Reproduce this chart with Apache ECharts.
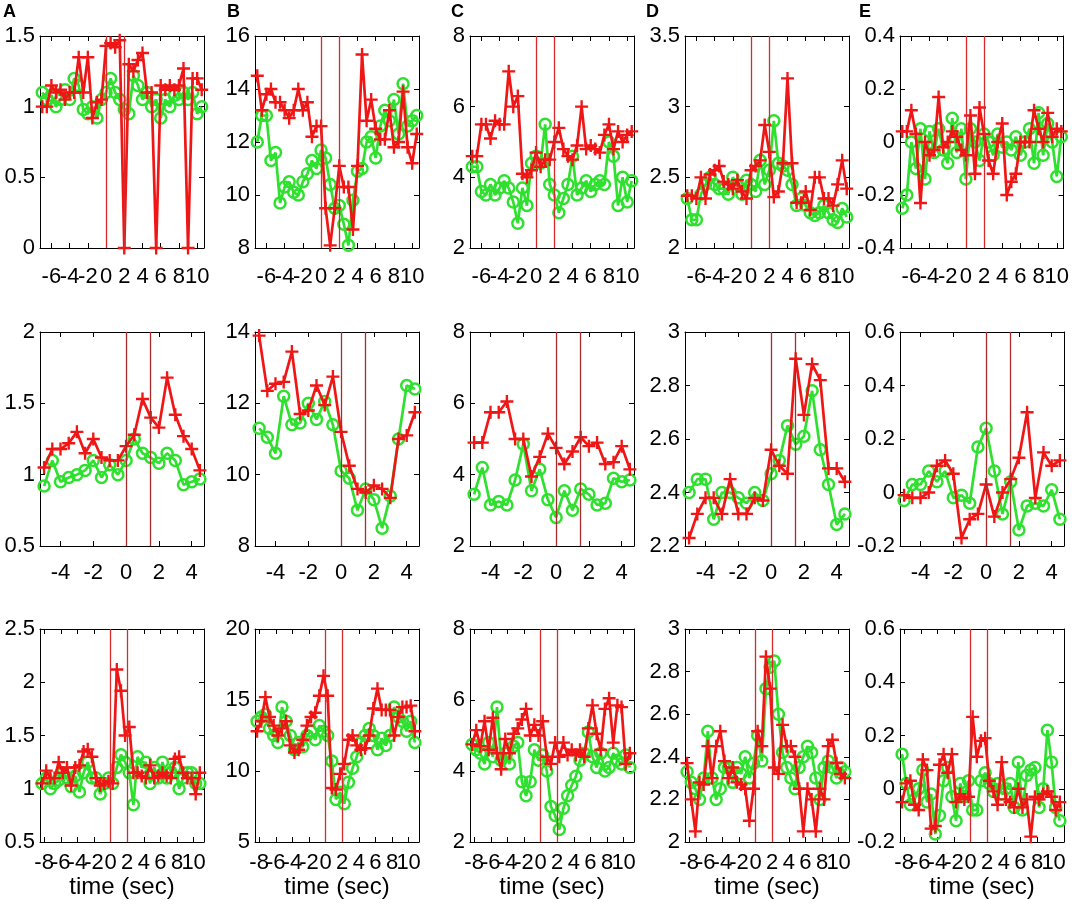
<!DOCTYPE html>
<html>
<head>
<meta charset="utf-8"/>
<style>
  html, body { margin: 0; padding: 0; background: #fff; }
  #main { width: 1072px; height: 905px; }
</style>
</head>
<body>
<div id="main"></div>
<script src="https://cdn.jsdelivr.net/npm/echarts@6/dist/echarts.min.js"></script>
<script type="text/javascript">
// time axes (sec), one per row
var timeRow1 = [-7,-6.5,-6,-5.5,-5,-4.5,-4,-3.5,-3,-2.5,-2,-1.5,-1,-0.5,0,0.5,1,1.5,2,2.5,3,3.5,4,4.5,5,5.5,6,6.5,7,7.5,8,8.5,9,9.5,10,10.5];
var timeRow2 = [-5,-4.5,-4,-3.5,-3,-2.5,-2,-1.5,-1,-0.5,0,0.5,1,1.5,2,2.5,3,3.5,4,4.5];
var timeRow3 = [-8.25,-7.75,-7.25,-6.75,-6.25,-5.75,-5.25,-4.75,-4.25,-3.75,-3.25,-2.75,-2.25,-1.75,-1.25,-0.75,-0.25,0.25,0.75,1.25,1.75,2.25,2.75,3.25,3.75,4.25,4.75,5.25,5.75,6.25,6.75,7.25,7.75,8.25,8.75,9.25,9.75,10.25,10.75];

// x tick labels per row
var xTicksRow1 = [-6,-4,-2,0,2,4,6,8,10];
var xTicksRow2 = [-4,-2,0,2,4];
var xTicksRow3 = [-8,-6,-4,-2,0,2,4,6,8,10];

// onset markers (red vertical lines)
var marksRow1 = [0, 2];
var marksRow2 = [0, 1.5];
var marksRow3 = [0, 2];

// row 1
var greenA1 = [1.1,1.05,1.08,1.0,1.05,1.12,1.05,1.2,1.15,0.98,0.95,1.0,0.92,1.05,1.1,1.2,1.1,1.05,0.98,0.95,1.22,1.15,1.05,1.1,1.0,1.05,0.92,1.05,1.0,1.08,1.05,1.1,1.05,1.1,0.95,1.0];
var redA1   = [1.0,1.0,1.15,1.1,1.12,1.05,1.1,1.1,1.35,1.1,1.35,0.92,1.03,1.05,1.43,1.45,1.42,1.47,0,1.3,1.25,1.33,1.38,1.1,1.1,0,1.15,1.12,1.15,1.12,1.15,1.27,0,1.2,1.2,1.12];
var greenB1 = [12.0,13.0,13.0,11.3,11.6,9.7,10.3,10.5,10.1,10.0,10.5,10.8,11.3,11.0,11.7,11.4,10.4,9.5,9.6,8.9,8.1,9.8,10.9,11.0,12.0,12.2,11.4,12.6,13.2,12.8,13.6,12.3,14.2,12.6,12.8,13.0];
var redB1   = [14.5,13.2,13.8,14.0,13.5,13.5,13.2,12.9,13.2,14.0,13.2,13.5,12.2,12.6,12.6,9.5,8.1,9.5,11.1,10.3,10.3,8.7,11.1,15.3,12.8,13.6,12.5,12.1,12.1,13.2,11.8,12.0,13.9,11.8,11.2,12.3];
var greenC1 = [4.3,4.3,3.6,3.5,3.8,3.5,3.7,3.9,3.7,3.3,2.7,3.7,3.2,4.4,4.6,4.4,5.5,3.8,3.5,3.0,3.4,3.8,4.6,3.5,3.7,3.9,3.6,3.8,3.9,3.8,5.0,4.6,3.2,4.0,3.3,3.9];
var redC1   = [4.6,4.6,5.5,5.5,5.1,5.6,5.5,5.5,7.0,6.0,6.3,4.1,4.0,4.2,4.7,4.3,4.5,4.5,5.0,5.4,4.8,4.6,4.5,4.9,6.0,4.8,4.9,4.8,4.7,5.2,5.5,4.8,5.3,5.0,5.2,5.3];
var greenD1 = [2.35,2.2,2.2,2.38,2.45,2.5,2.45,2.42,2.42,2.38,2.5,2.45,2.38,2.48,2.45,2.4,2.62,2.45,2.55,2.9,2.6,2.58,2.55,2.45,2.3,2.35,2.3,2.25,2.23,2.25,2.3,2.25,2.2,2.18,2.28,2.22];
var redD1   = [2.37,2.37,2.35,2.5,2.35,2.52,2.55,2.58,2.47,2.45,2.42,2.48,2.4,2.35,2.55,2.58,2.62,2.87,2.68,2.36,2.4,2.6,3.2,2.6,2.32,2.32,2.4,2.27,2.5,2.5,2.35,2.35,2.3,2.45,2.62,2.42];
var greenE1 = [-0.25,-0.2,0.0,-0.1,0.05,-0.14,0.04,-0.04,0.05,-0.03,-0.08,0.09,-0.04,0.05,-0.14,0.05,0.0,-0.07,0.03,0.0,-0.05,0.03,-0.02,0.0,-0.03,0.02,-0.05,0.0,0.05,-0.08,0.11,-0.05,0.07,0.0,-0.13,0.02];
var redE1   = [0.04,0.04,0.12,0.03,-0.23,0.0,-0.05,-0.03,0.17,-0.02,0.0,0.04,0.02,-0.03,-0.05,0.1,-0.12,0.13,0.03,-0.07,-0.12,0.0,0.07,-0.2,-0.15,-0.12,0.0,0.0,0.0,0.12,0.05,0.0,0.11,0.02,0.05,0.04];

// row 2
var greenA2 = [0.92,1.1,0.95,0.98,1.0,1.03,1.1,0.98,1.07,1.0,1.1,1.25,1.15,1.12,1.08,1.15,1.1,0.93,0.95,0.97];
var redA2   = [1.05,1.18,1.18,1.22,1.3,1.15,1.25,1.12,1.1,1.1,1.2,1.28,1.53,1.4,1.33,1.68,1.42,1.27,1.18,1.03];
var greenB2 = [11.3,11.05,10.6,12.2,11.4,11.45,12.0,11.55,12.05,11.4,10.1,9.9,9.0,9.6,9.3,8.5,9.4,11.0,12.5,12.4];
var redB2   = [13.9,12.35,12.55,12.6,13.45,11.7,11.8,12.5,11.95,12.75,11.2,10.25,9.6,9.5,9.7,9.6,9.35,11.0,11.1,11.75];
var greenC2 = [3.45,4.2,3.15,3.25,3.15,3.85,4.85,3.55,4.15,3.3,2.8,3.55,3.0,3.6,3.45,3.15,3.2,3.9,3.8,3.85];
var redC2   = [4.9,4.9,5.75,5.75,6.05,5.0,5.0,3.95,4.5,5.15,4.75,4.3,4.65,5.05,4.8,4.9,4.3,4.35,4.8,4.15];
var greenD2 = [2.4,2.45,2.45,2.3,2.4,2.4,2.38,2.36,2.4,2.37,2.47,2.52,2.65,2.58,2.61,2.78,2.56,2.43,2.28,2.32];
var redD2   = [2.23,2.32,2.38,2.38,2.32,2.45,2.32,2.32,2.38,2.37,2.56,2.5,2.47,2.9,2.69,2.88,2.82,2.49,2.49,2.44];
var greenE2 = [-0.03,0.03,0.03,0.08,0.04,0.08,-0.02,-0.01,-0.04,0.17,0.24,0.08,-0.08,0.04,-0.14,-0.05,-0.04,-0.05,0.01,-0.1];
var redE2   = [-0.01,-0.02,-0.02,0.0,0.1,0.12,0.07,-0.17,-0.1,-0.08,0.03,-0.09,0.0,0.05,0.13,0.3,-0.02,0.15,0.1,0.12];

// row 3
var greenA3 = [1.05,1.1,1.0,1.05,1.08,1.15,1.1,1.02,1.12,0.97,1.15,1.25,1.1,1.1,0.95,1.05,1.1,1.05,1.2,1.32,1.25,1.15,0.85,1.3,1.2,1.25,1.05,1.2,1.1,1.25,1.1,1.15,1.2,1.0,1.1,1.15,1.15,1.05,1.05];
var redA3   = [1.05,1.17,1.1,1.1,1.25,1.15,1.2,1.03,1.2,1.22,1.35,1.37,1.3,1.1,1.03,1.05,1.07,1.05,2.12,1.92,1.5,1.58,1.15,1.15,1.12,1.1,1.22,1.1,1.12,1.15,1.12,1.1,1.28,1.3,1.15,1.1,1.1,0.95,1.15];
var greenB3 = [13.5,13.8,14.0,13.0,12.5,12.0,14.5,13.5,12.5,11.5,12.0,11.7,12.5,12.8,12.2,13.2,12.8,12.5,10.7,8.0,8.5,7.7,9.2,10.2,11.0,12.0,12.5,13.0,12.5,11.5,12.3,11.8,12.5,14.5,13.8,13.5,12.8,13.5,12.0];
var redB3   = [12.8,13.5,15.2,13.8,13.2,12.5,13.0,13.5,11.8,11.3,11.5,12.2,13.2,13.8,14.1,15.3,16.7,15.3,8.8,8.7,9.8,10.5,12.2,12.5,11.8,11.5,11.6,12.5,14.4,15.8,14.3,14.3,14.3,12.5,13.8,14.5,14.5,14.6,12.8];
var greenC3 = [4.75,4.6,4.5,4.2,4.8,4.4,5.8,4.3,4.5,4.2,4.7,4.8,3.7,3.3,3.7,4.6,4.3,4.45,4.0,3.0,2.75,2.35,2.95,3.3,3.6,3.85,4.3,4.5,5.1,4.4,4.1,4.5,4.0,4.1,4.5,4.3,4.2,4.45,4.1];
var redC3   = [4.75,5.15,4.7,5.4,4.6,5.5,4.5,4.05,4.9,4.5,5.05,5.2,5.45,5.75,5.0,5.3,5.0,5.4,4.4,4.2,4.8,4.4,4.8,4.45,4.6,4.45,4.6,4.4,5.2,5.85,5.05,4.6,5.75,6.05,4.8,5.85,5.8,4.2,4.5];
var greenD3 = [2.33,2.28,2.25,2.2,2.3,2.52,2.3,2.2,2.25,2.35,2.35,2.28,2.35,2.32,2.4,2.3,2.37,2.5,2.38,2.72,2.82,2.85,2.6,2.42,2.35,2.3,2.25,2.35,2.4,2.45,2.42,2.3,2.2,2.35,2.38,2.35,2.3,2.35,2.33];
var redD3   = [2.37,2.2,2.05,2.28,2.27,2.45,2.3,2.45,2.52,2.38,2.3,2.35,2.28,2.27,2.25,2.1,2.25,2.52,2.45,2.87,2.72,2.35,2.32,2.55,2.45,2.45,2.4,2.25,2.05,2.25,2.2,2.05,2.25,2.2,2.45,2.48,2.37,2.32,2.3];
var greenE3 = [0.13,0.02,-0.06,-0.04,0.0,0.07,-0.05,-0.02,-0.17,-0.1,0.03,0.08,-0.03,-0.12,0.02,-0.03,0.03,-0.08,-0.08,0.03,0.06,0.02,-0.01,0.02,-0.02,0.0,0.02,-0.07,0.1,-0.08,0.05,0.07,0.08,-0.07,0.0,0.22,0.1,-0.07,-0.12];
var redE3   = [-0.05,0.02,0.03,-0.06,-0.08,0.11,0.07,-0.15,-0.14,0.09,0.13,0.06,0.13,-0.05,-0.02,-0.04,-0.03,0.27,0.12,0.18,0.19,0.03,-0.01,-0.06,0.1,-0.04,-0.05,-0.07,0.0,-0.07,-0.04,-0.18,-0.03,-0.04,-0.02,-0.01,-0.03,-0.08,-0.05];

// y tick labels per panel
var yTicksA1 = [0,0.5,1,1.5],        yTicksB1 = [8,10,12,14,16],  yTicksC1 = [2,4,6,8], yTicksD1 = [2,2.5,3,3.5],       yTicksE1 = [-0.4,-0.2,0,0.2,0.4];
var yTicksA2 = [0.5,1,1.5,2],        yTicksB2 = [8,10,12,14],     yTicksC2 = [2,4,6,8], yTicksD2 = [2.2,2.4,2.6,2.8,3], yTicksE2 = [-0.2,0,0.2,0.4,0.6];
var yTicksA3 = [0.5,1,1.5,2,2.5],    yTicksB3 = [5,10,15,20],     yTicksC3 = [2,4,6,8], yTicksD3 = [2,2.2,2.4,2.6,2.8,3], yTicksE3 = [-0.2,0,0.2,0.4,0.6];

var panelLetters = ['A','B','C','D','E'];

// layout
var colLeft = [40, 255, 470, 685, 900];
var rowTop = [36, 332, 629];
var rowH = [212, 214, 213];
var plotW = 164;
var xRange = [[-7.25, 10.75], [-5.25, 4.75], [-8.5, 11.25]];
var labelMargin = [18, 16, 10];
var markColor = ['#d82a2a', '#a82a2a', '#d82a2a'];
var letterX = [3, 227, 451, 646, 859];

var GREEN = '#2fe02f';
var RED = '#f01616';
var FONT = 'Liberation Sans, Arial, sans-serif';
var CROSS = 'path://M4.5,0H6.5V4.5H11V6.5H6.5V11H4.5V6.5H0V4.5H4.5Z';

var rows = [
  { time: timeRow1, xt: xTicksRow1, marks: marksRow1,
    green: [greenA1, greenB1, greenC1, greenD1, greenE1],
    red:   [redA1, redB1, redC1, redD1, redE1],
    yt:    [yTicksA1, yTicksB1, yTicksC1, yTicksD1, yTicksE1] },
  { time: timeRow2, xt: xTicksRow2, marks: marksRow2,
    green: [greenA2, greenB2, greenC2, greenD2, greenE2],
    red:   [redA2, redB2, redC2, redD2, redE2],
    yt:    [yTicksA2, yTicksB2, yTicksC2, yTicksD2, yTicksE2] },
  { time: timeRow3, xt: xTicksRow3, marks: marksRow3,
    green: [greenA3, greenB3, greenC3, greenD3, greenE3],
    red:   [redA3, redB3, redC3, redD3, redE3],
    yt:    [yTicksA3, yTicksB3, yTicksC3, yTicksD3, yTicksE3] }
];

function zip(t, v) {
  return v.map(function (y, i) { return [t[i], y]; });
}

var grids = [], xAxes = [], yAxes = [], series = [];
var boxLine = { show: true, onZero: false, lineStyle: { color: '#000', width: 1 } };

rows.forEach(function (row, r) {
  // x labels overlap in the original; split them over two stacked axes so none get dropped
  var xtEven = row.xt.filter(function (v, i) { return i % 2 === 0; });
  var xtOdd = row.xt.filter(function (v, i) { return i % 2 === 1; });
  var xLabel = function (vals) {
    return { customValues: vals, margin: labelMargin[r], color: '#000', fontSize: 22, fontFamily: FONT,
             showMinLabel: true, showMaxLabel: true };
  };
  for (var c = 0; c < 5; c++) {
    var g = grids.length;
    grids.push({ left: colLeft[c], top: rowTop[r], width: plotW, height: rowH[r] });
    var yt = row.yt[c];
    var tickX = { show: true, inside: true, length: 5, customValues: row.xt, lineStyle: { color: '#000' } };
    var tickY = { show: true, inside: true, length: 5, customValues: yt, lineStyle: { color: '#000' } };

    xAxes.push({
      gridIndex: g, type: 'value', position: 'bottom',
      min: xRange[r][0], max: xRange[r][1],
      axisLine: boxLine, axisTick: tickX, splitLine: { show: false },
      axisLabel: xLabel(xtEven),
      name: r === 2 ? 'time (sec)' : '', nameLocation: 'middle', nameGap: 27,
      nameTextStyle: { color: '#000', fontSize: 24, fontFamily: FONT }
    });
    xAxes.push({
      gridIndex: g, type: 'value', position: 'top',
      min: xRange[r][0], max: xRange[r][1],
      axisLine: boxLine, axisTick: tickX, splitLine: { show: false },
      axisLabel: { show: false }
    });
    xAxes.push({
      gridIndex: g, type: 'value', position: 'bottom', offset: 0,
      min: xRange[r][0], max: xRange[r][1],
      axisLine: { show: false, onZero: false }, axisTick: { show: false }, splitLine: { show: false },
      axisLabel: xLabel(xtOdd)
    });
    yAxes.push({
      gridIndex: g, type: 'value', position: 'left',
      min: yt[0], max: yt[yt.length - 1],
      axisLine: boxLine, axisTick: tickY, splitLine: { show: false },
      axisLabel: { customValues: yt, margin: 5, color: '#000', fontSize: 22, fontFamily: FONT,
                   showMinLabel: true, showMaxLabel: true }
    });
    yAxes.push({
      gridIndex: g, type: 'value', position: 'right',
      min: yt[0], max: yt[yt.length - 1],
      axisLine: boxLine, axisTick: tickY, splitLine: { show: false },
      axisLabel: { show: false }
    });

    series.push({
      type: 'line', xAxisIndex: 3 * g, yAxisIndex: 2 * g,
      data: zip(row.time, row.green[c]),
      symbol: 'circle', symbolSize: 11, showAllSymbol: true, clip: false,
      itemStyle: { color: 'rgba(0,0,0,0)', borderColor: GREEN, borderWidth: 2.5 },
      lineStyle: { color: GREEN, width: 2.7 },
      emphasis: { disabled: true }, z: 2,
      markLine: {
        silent: true, symbol: ['none', 'none'], label: { show: false },
        lineStyle: { color: markColor[r], width: 1.3, type: 'solid' },
        data: row.marks.map(function (m) { return { xAxis: m }; })
      }
    });
    series.push({
      type: 'line', xAxisIndex: 3 * g, yAxisIndex: 2 * g,
      data: zip(row.time, row.red[c]),
      symbol: CROSS, symbolSize: 13, showAllSymbol: true, clip: false,
      itemStyle: { color: RED },
      lineStyle: { color: RED, width: 2.7 },
      emphasis: { disabled: true }, z: 3
    });
  }
});

var letters = panelLetters.map(function (L, c) {
  return { type: 'text', left: letterX[c], top: 3,
           style: { text: L, font: 'bold 18px ' + FONT, fill: '#000' } };
});

var myChart = echarts.init(document.getElementById('main'));
myChart.setOption({
  backgroundColor: '#fff',
  animation: false,
  grid: grids,
  xAxis: xAxes,
  yAxis: yAxes,
  series: series,
  graphic: letters
});
</script>
</body>
</html>
